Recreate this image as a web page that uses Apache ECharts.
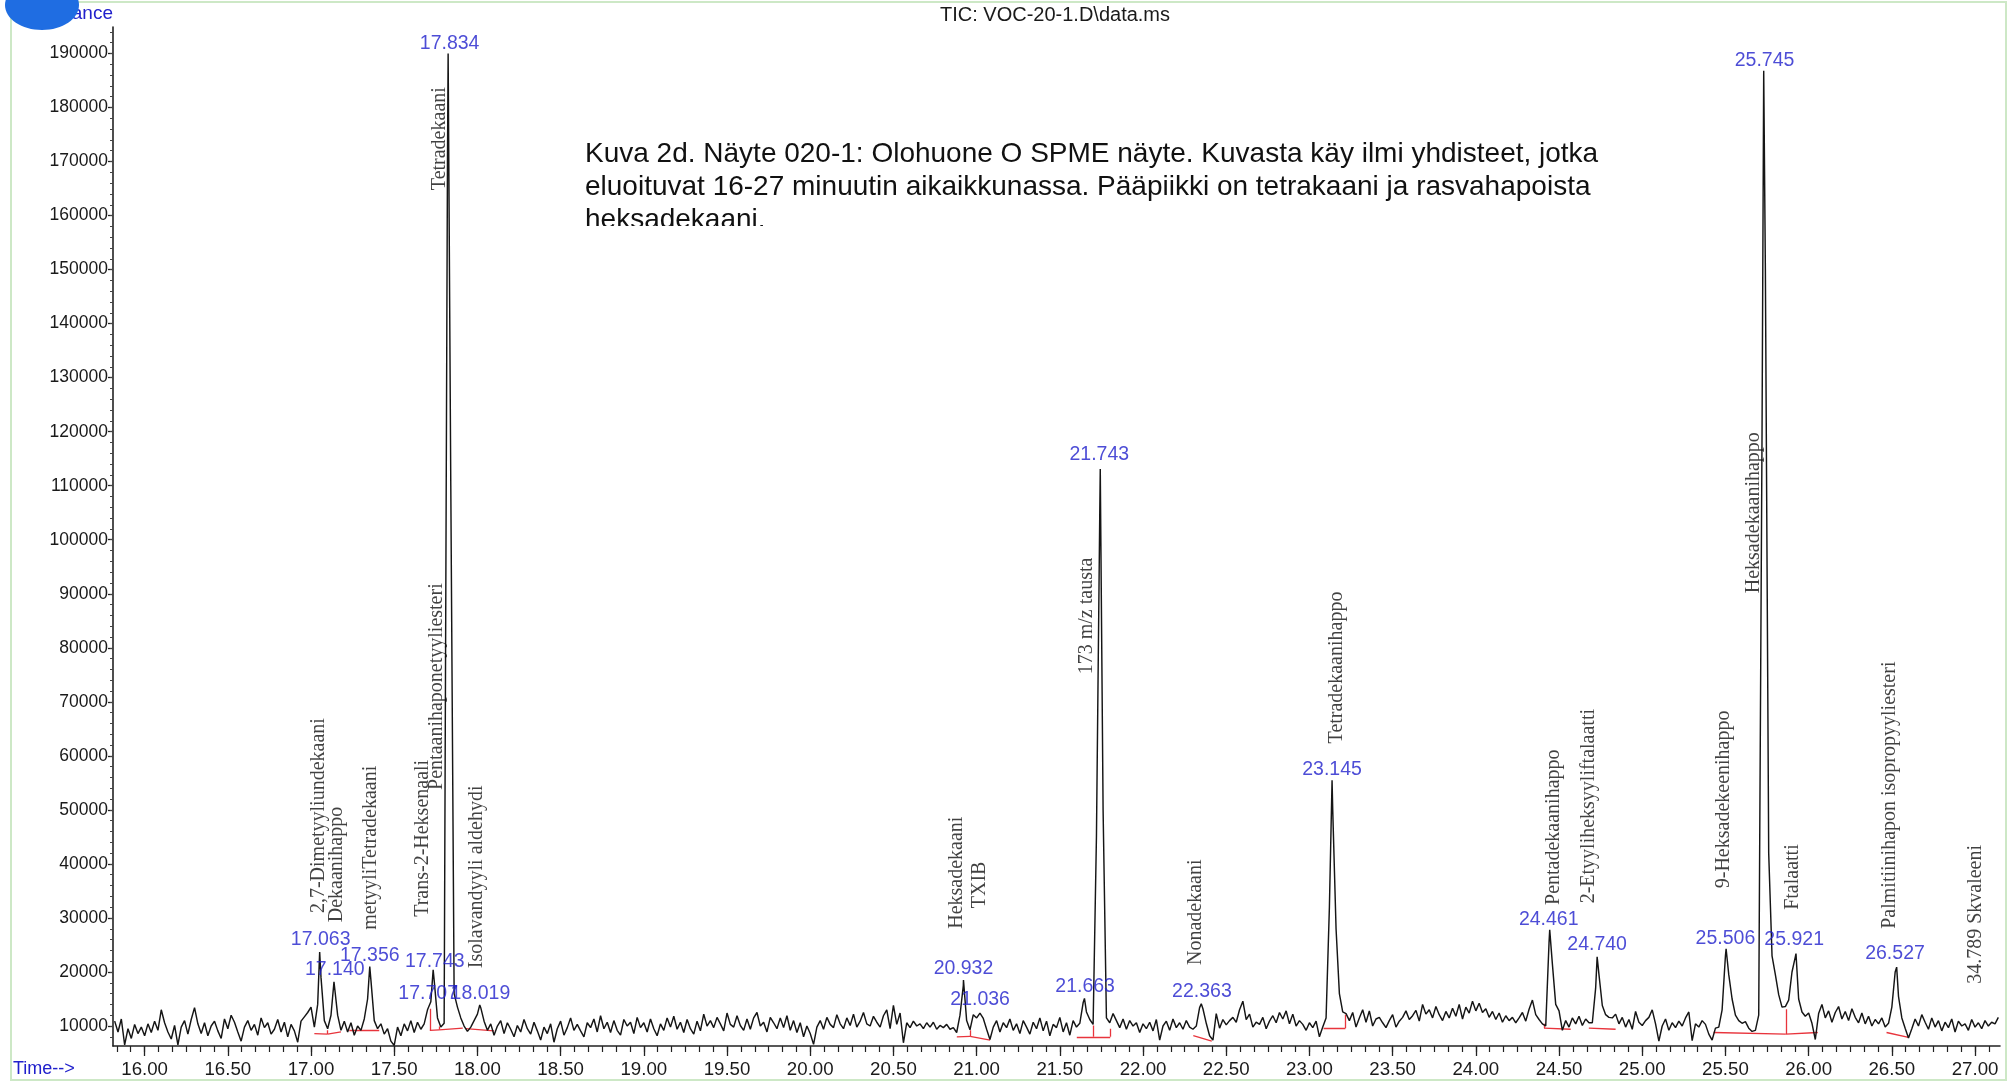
<!DOCTYPE html>
<html><head><meta charset="utf-8">
<script src="https://cdn.jsdelivr.net/npm/echarts@6/dist/echarts.min.js"></script>
<style>html,body{margin:0;padding:0;background:#fff}#c{width:2013px;height:1084px}</style>
</head><body><div id="c"></div>
<script>
// ---- scan grid (minutes) ----
const scanStart = 15.82;
const scanStep = 0.02;
// TIC abundance, thousands of counts, one value per scan
const signal = [
 10.9, 8.9, 11.3, 6.5, 9.5, 7.7, 10.3, 8.6, 9.8, 8.2,
 10.4, 8.8, 10.9, 9.2, 13.0, 10.6, 8.9, 7.6, 10.1, 6.5,
 9.8, 11.0, 8.5, 11.2, 13.4, 10.4, 8.6, 10.6, 8.2, 10.0,
 10.9, 9.1, 7.7, 11.3, 9.5, 12.0, 10.7, 8.9, 7.2, 9.8,
 11.0, 9.2, 10.3, 8.3, 11.5, 9.7, 10.6, 8.5, 9.4, 11.2,
 8.9, 10.7, 8.0, 10.3, 9.1, 7.0, 10.9, 11.7, 12.5, 13.5,
 9.8, 14.0, 19.0, 11.0, 9.5, 12.0, 18.0, 12.0, 9.2, 10.9,
 8.9, 10.6, 8.3, 10.0, 9.2, 11.3, 15.0, 18.5, 11.0, 9.5,
 10.4, 8.5, 9.5, 7.2, 6.4, 9.8, 8.2, 10.4, 9.1, 11.0,
 8.8, 10.7, 9.4, 10.4, 13.0, 14.5, 18.5, 11.5, 9.8, 10.5,
 170, 110, 16.0, 13.5, 11.5, 10.0, 9.0, 9.8, 11.0, 12.2,
 13.4, 10.9, 9.2, 10.4, 8.3, 10.0, 11.0, 8.6, 10.6, 9.4,
 8.0, 10.1, 8.9, 11.2, 9.5, 8.5, 10.7, 9.1, 7.4, 9.8,
 8.6, 10.4, 7.0, 9.5, 10.9, 8.3, 9.7, 11.5, 9.2, 10.3,
 9.1, 8.0, 10.6, 9.7, 11.3, 8.9, 11.9, 9.5, 10.7, 8.8,
 11.0, 9.2, 8.3, 11.2, 10.0, 10.7, 8.6, 11.6, 9.7, 10.6,
 8.9, 11.3, 9.5, 8.2, 10.4, 9.2, 11.5, 9.8, 11.8, 9.4,
 10.7, 8.8, 11.2, 9.5, 8.5, 10.9, 9.1, 12.2, 10.0, 11.0,
 9.7, 11.6, 10.4, 9.1, 12.4, 10.3, 9.8, 11.9, 10.1, 9.2,
 11.3, 9.4, 11.5, 12.5, 10.0, 10.7, 8.9, 11.6, 10.6, 9.5,
 11.5, 9.7, 11.9, 9.2, 11.0, 8.8, 10.6, 8.0, 10.0, 8.6,
 6.6, 9.8, 11.0, 9.4, 11.6, 10.3, 9.7, 12.1, 10.4, 9.5,
 11.5, 10.1, 12.2, 9.8, 10.9, 12.5, 10.4, 10.0, 11.8, 10.7,
 9.8, 11.9, 13.0, 9.5, 13.8, 10.3, 12.4, 6.9, 10.6, 9.7,
 10.9, 10.0, 10.4, 9.5, 10.6, 9.8, 10.7, 9.4, 10.1, 9.7,
 10.3, 9.4, 9.7, 8.8, 12.0, 17.5, 11.0, 9.3, 12.1, 11.5,
 12.4, 11.4, 9.4, 7.5, 9.8, 11.0, 8.9, 10.6, 9.7, 11.3,
 9.2, 10.4, 8.6, 11.0, 9.8, 8.5, 10.7, 9.5, 11.5, 9.1,
 10.9, 8.2, 10.3, 9.7, 11.6, 8.9, 10.6, 8.3, 11.0, 9.8,
 10.5, 14.3, 12.6, 11.2, 10.3, 45, 105, 50, 11.5, 10.6,
 12.3, 11.0, 9.7, 11.3, 9.4, 11.0, 10.0, 10.6, 8.8, 10.4,
 9.5, 10.7, 9.1, 11.2, 7.4, 10.0, 10.9, 9.2, 11.3, 9.7,
 10.6, 9.4, 11.0, 9.8, 9.4, 10.0, 13.4, 13.2, 10.5, 8.2,
 7.4, 12.3, 9.6, 11.2, 10.2, 11.0, 11.6, 10.7, 13.0, 14.6,
 11.2, 12.2, 9.8, 10.7, 10.3, 11.6, 9.5, 10.9, 11.9, 10.6,
 12.5, 11.3, 12.8, 10.4, 12.2, 10.0, 11.0, 10.3, 9.2, 10.6,
 9.7, 10.9, 8.0, 9.8, 11.5, 32, 50, 28, 16, 12.6,
 12.3, 11.0, 12.5, 9.8, 11.5, 13.0, 10.7, 12.8, 10.0, 11.3,
 11.6, 10.6, 9.7, 11.0, 12.1, 9.8, 10.9, 11.6, 12.8, 11.2,
 11.9, 12.9, 10.9, 14.0, 12.2, 13.0, 11.5, 13.6, 12.1, 11.0,
 12.7, 11.5, 13.3, 11.8, 14.0, 11.3, 13.5, 12.4, 14.6, 12.8,
 14.2, 12.5, 13.2, 11.6, 12.7, 11.2, 12.4, 10.7, 11.9, 11.0,
 11.6, 10.6, 11.5, 12.5, 10.9, 13.1, 14.8, 12.1, 11.2, 10.4,
 10.0, 25.5, 21.5, 14.0, 12.8, 9.2, 11.0, 9.8, 11.5, 10.4,
 11.8, 10.1, 11.3, 10.6, 10.6, 17.0, 19.5, 13.8, 12.1, 11.6,
 11.5, 12.2, 10.4, 11.6, 9.8, 11.2, 9.4, 12.7, 10.7, 10.1,
 11.0, 11.6, 13.0, 10.4, 7.2, 10.0, 11.3, 9.2, 10.6, 9.7,
 10.9, 10.0, 11.5, 12.6, 7.3, 10.4, 9.8, 11.0, 10.3, 8.5,
 7.4, 9.6, 9.8, 13.0, 23.0, 19.5, 15.0, 12.0, 11.0, 10.5,
 10.8, 9.6, 9.0, 9.2, 12.0, 120, 150, 42, 23, 19.5,
 15.8, 13.5, 13.6, 14.8, 20.0, 22.8, 15.0, 12.6, 11.8, 12.4,
 10.5, 7.5, 12.3, 14.0, 11.5, 12.8, 10.7, 12.5, 13.6, 11.3,
 12.7, 11.0, 13.2, 11.6, 10.6, 12.4, 10.4, 11.8, 10.0, 11.2,
 10.4, 11.5, 9.8, 10.5, 13.5, 20.0, 15.5, 11.5, 9.6, 7.8,
 9.5, 11.3, 10.0, 12.1, 10.7, 9.4, 11.5, 9.8, 11.0, 9.1,
 10.7, 9.7, 11.3, 8.9, 10.9, 10.0, 10.4, 9.2, 11.2, 9.8,
 10.6, 9.5, 11.0, 10.0, 10.7, 10.4, 11.6
];
// peak apexes (min, thousands)
const apexTimes  = [17.052, 17.138, 17.353, 17.734, 17.824, 18.014, 20.921, 21.648, 21.743, 22.350, 23.136, 24.444, 24.729, 25.504, 25.730, 25.924, 26.529];
const apexValues = [23.7,   18.2,   21.0,   20.4,   190.0,  13.9,   18.5,   15.1,   113.1,  14.1,   55.5,   27.8,   22.8,   24.3,   186.8,  23.4,   20.9];

// axis ticks
const xTickValues = [16.00,16.50,17.00,17.50,18.00,18.50,19.00,19.50,20.00,20.50,21.00,21.50,22.00,22.50,23.00,23.50,24.00,24.50,25.00,25.50,26.00,26.50,27.00];
const yTickValues = [10000,20000,30000,40000,50000,60000,70000,80000,90000,100000,110000,120000,130000,140000,150000,160000,170000,180000,190000];

// retention time labels (text, anchor time, anchor level in thousands)
const rtLabels      = ['17.834','17.063','17.140','17.356','17.743','17.707','18.019','20.932','21.036','21.663','21.743','22.363','23.145','24.461','24.740','25.506','25.745','25.921','26.527'];
const rtLabelTimes  = [17.833, 17.058, 17.143, 17.353, 17.744, 17.704, 18.018, 20.921, 21.021, 21.652, 21.737, 22.354, 23.136, 24.438, 24.729, 25.500, 25.735, 25.913, 26.519];
const rtLabelLevels = [191.8,  25.9,   20.4,   23.0,   22.0,   16.05,  16.05,  20.7,   14.8,   17.3,   115.8,  16.35,  57.4,   29.6,   25.0,   26.2,   188.7,  26.0,   23.4];

// compound names (text, anchor time, level of the text's lower end in thousands)
const compoundNames  = ['2,7-Dimetyyliundekaani','Dekaanihappo','metyyliTetradekaani','Trans-2-Heksenaali','Pentaanihaponetyyliesteri','Isolavandyyli aldehydi','Tetradekaani','Heksadekaani','TXIB','173 m/z tausta','Nonadekaani','Tetradekaanihappo','Pentadekaanihappo','2-Etyyliheksyyliftalaatti','9-Heksadekeenihappo','Heksadekaanihappo','Ftalaatti','Palmitiinihapon isopropyyliesteri','34.789 Skvaleeni'];
const compoundTimes  = [17.046, 17.155, 17.359, 17.672, 17.756, 17.996, 17.774, 20.879, 21.021, 21.659, 22.314, 23.166, 24.469, 24.679, 25.490, 25.673, 25.906, 26.489, 27.003];
const compoundLevels = [30.9,   29.2,   27.8,   30.2,   53.7,   20.7,   164.7,  28.0,   31.8,   75.1,   21.3,   62.3,   32.4,   32.7,   35.5,   90.1,   31.5,   28.0,   17.8];

// integration baselines [t1, v1, t2, v2] (thousands)
const baselineSegments = [
 [17.02, 8.6, 17.10, 8.5], [17.10, 8.5, 17.18, 8.9], [17.10, 8.5, 17.10, 9.2],
 [17.23, 9.2, 17.41, 9.2],
 [17.714, 9.2, 17.714, 13.2], [17.714, 9.2, 17.77, 9.3], [17.77, 9.3, 17.77, 9.9], [17.77, 9.3, 17.912, 9.6],
 [17.93, 9.5, 18.10, 9.1],
 [20.881, 8.0, 20.961, 8.1], [20.961, 8.1, 20.961, 9.2], [20.961, 8.1, 21.081, 7.4],
 [21.602, 8.0, 21.803, 8.0], [21.699, 8.0, 21.699, 10.1], [21.803, 8.0, 21.803, 9.5],
 [22.302, 8.2, 22.413, 7.2],
 [23.085, 9.6, 23.216, 9.6], [23.216, 9.6, 23.216, 12.1],
 [24.41, 9.6, 24.57, 9.4], [24.41, 9.6, 24.41, 10.4],
 [24.679, 9.6, 24.84, 9.4],
 [25.429, 8.8, 25.863, 8.5], [25.863, 8.5, 25.863, 13.1], [25.863, 8.5, 26.055, 8.8],
 [26.468, 8.8, 26.600, 7.9]
];

// ---- build ----
const trace = signal.map((v, i) => [+(scanStart + scanStep * i).toFixed(2), v * 1000]);
apexTimes.forEach((t, i) => trace.push([t, apexValues[i] * 1000]));
trace.sort((a, b) => a[0] - b[0]);

const xMin = 15.81, xMax = 27.15, yMin = 6300, yMax = 194900;
const xMinor = [];
for (let k = Math.ceil(xMin * 12); k <= Math.floor(xMax * 12); k++) xMinor.push(k / 12);
const yMinor = [];
for (let v = 8000; v <= 194000; v += 2000) yMinor.push(v);

const blue = '#2020cc';
const chart = echarts.init(document.getElementById('c'), null, {renderer: 'canvas'});
chart.setOption({
  animation: false,
  backgroundColor: '#ffffff',
  grid: {left: 113, right: 13, top: 27, bottom: 38},
  xAxis: [{
    type: 'value', min: xMin, max: xMax,
    axisLine: {lineStyle: {color: '#222', width: 1.6}},
    axisTick: {customValues: xTickValues, length: 10, lineStyle: {color: '#222', width: 1.3}},
    axisLabel: {customValues: xTickValues, formatter: v => v.toFixed(2), margin: 14,
      fontFamily: 'Liberation Sans', fontSize: 18.7, color: '#1a1a1a'},
    splitLine: {show: false}
  }, {
    type: 'value', min: xMin, max: xMax, position: 'bottom',
    axisLine: {show: false},
    axisTick: {customValues: xMinor, length: 6, lineStyle: {color: '#222', width: 1.2}},
    axisLabel: {show: false}, splitLine: {show: false}
  }],
  yAxis: [{
    type: 'value', min: yMin, max: yMax,
    axisLine: {show: true, lineStyle: {color: '#222', width: 1.6}},
    axisTick: {show: true, customValues: yTickValues, length: 5, lineStyle: {color: '#222', width: 1.3}},
    axisLabel: {customValues: yTickValues, formatter: v => String(v), margin: 5,
      fontFamily: 'Liberation Sans', fontSize: 17.5, color: '#1a1a1a'},
    splitLine: {show: false}
  }, {
    type: 'value', min: yMin, max: yMax, position: 'left',
    axisLine: {show: false},
    axisTick: {show: true, customValues: yMinor, length: 3, lineStyle: {color: '#444', width: 1}},
    axisLabel: {show: false}, splitLine: {show: false}
  }],
  series: [
    {
      type: 'lines', coordinateSystem: 'cartesian2d', z: 1, silent: true,
      lineStyle: {color: '#e8343c', width: 1.3, opacity: 1},
      data: baselineSegments.map(s => ({coords: [[s[0], s[1] * 1000], [s[2], s[3] * 1000]]}))
    },
    {
      type: 'line', data: trace, showSymbol: false, symbol: 'none', z: 2,
      lineStyle: {color: '#151515', width: 1.45}, silent: true
    },
    {
      type: 'scatter', symbolSize: 0, z: 3, silent: true,
      data: rtLabels.map((s, i) => ({name: s, value: [rtLabelTimes[i], rtLabelLevels[i] * 1000]})),
      label: {show: true, formatter: '{b}', position: 'inside', fontFamily: 'Liberation Sans',
        fontSize: 19.5, color: blue}
    },
    {
      type: 'scatter', symbolSize: 0, z: 3, silent: true,
      data: compoundNames.map((s, i) => ({name: s, value: [compoundTimes[i], compoundLevels[i] * 1000]})),
      label: {show: true, formatter: '{b}', position: 'inside', rotate: 90, align: 'left', verticalAlign: 'middle',
        fontFamily: 'Liberation Serif', fontSize: 20, color: '#111'}
    }
  ],
  graphic: [
    {type: 'rect', z: 0, silent: true, shape: {x: 11, y: 2, width: 1995, height: 1078},
      style: {fill: 'none', stroke: '#cde8c6', lineWidth: 2}},
    {type: 'text', z: 5, x: 1055, y: 15, style: {text: 'TIC: VOC-20-1.D\\data.ms', fontFamily: 'Liberation Sans',
      fontSize: 20, fill: '#1a1a1a', align: 'center', verticalAlign: 'middle'}},
    {type: 'text', z: 5, x: 113, y: 14, style: {text: 'Abundance', fontFamily: 'Liberation Sans',
      fontSize: 19, fill: blue, align: 'right', verticalAlign: 'middle'}},
    {type: 'ellipse', z: 6, shape: {cx: 42, cy: 5, rx: 37, ry: 25}, style: {fill: '#1f6de2'}},
    {type: 'text', z: 5, x: 13, y: 1069, style: {text: 'Time-->', fontFamily: 'Liberation Sans',
      fontSize: 18, fill: blue, align: 'left', verticalAlign: 'middle'}},
    {type: 'text', z: 5, x: 585, y: 154, style: {text: 'Kuva 2d. Näyte 020-1: Olohuone O SPME näyte. Kuvasta käy ilmi yhdisteet, jotka',
      fontFamily: 'Liberation Sans', fontSize: 28, fill: '#111', align: 'left', verticalAlign: 'middle'}},
    {type: 'text', z: 5, x: 585, y: 187, style: {text: 'eluoituvat 16-27 minuutin aikaikkunassa. Pääpiikki on tetrakaani ja rasvahapoista',
      fontFamily: 'Liberation Sans', fontSize: 28, fill: '#111', align: 'left', verticalAlign: 'middle'}},
    {type: 'text', z: 5, x: 585, y: 220, style: {text: 'heksadekaani.',
      fontFamily: 'Liberation Sans', fontSize: 28, fill: '#111', align: 'left', verticalAlign: 'middle'}},
    {type: 'rect', z: 7, silent: true, shape: {x: 575, y: 226, width: 260, height: 18}, style: {fill: '#ffffff'}}
  ]
});
</script>
</body></html>
